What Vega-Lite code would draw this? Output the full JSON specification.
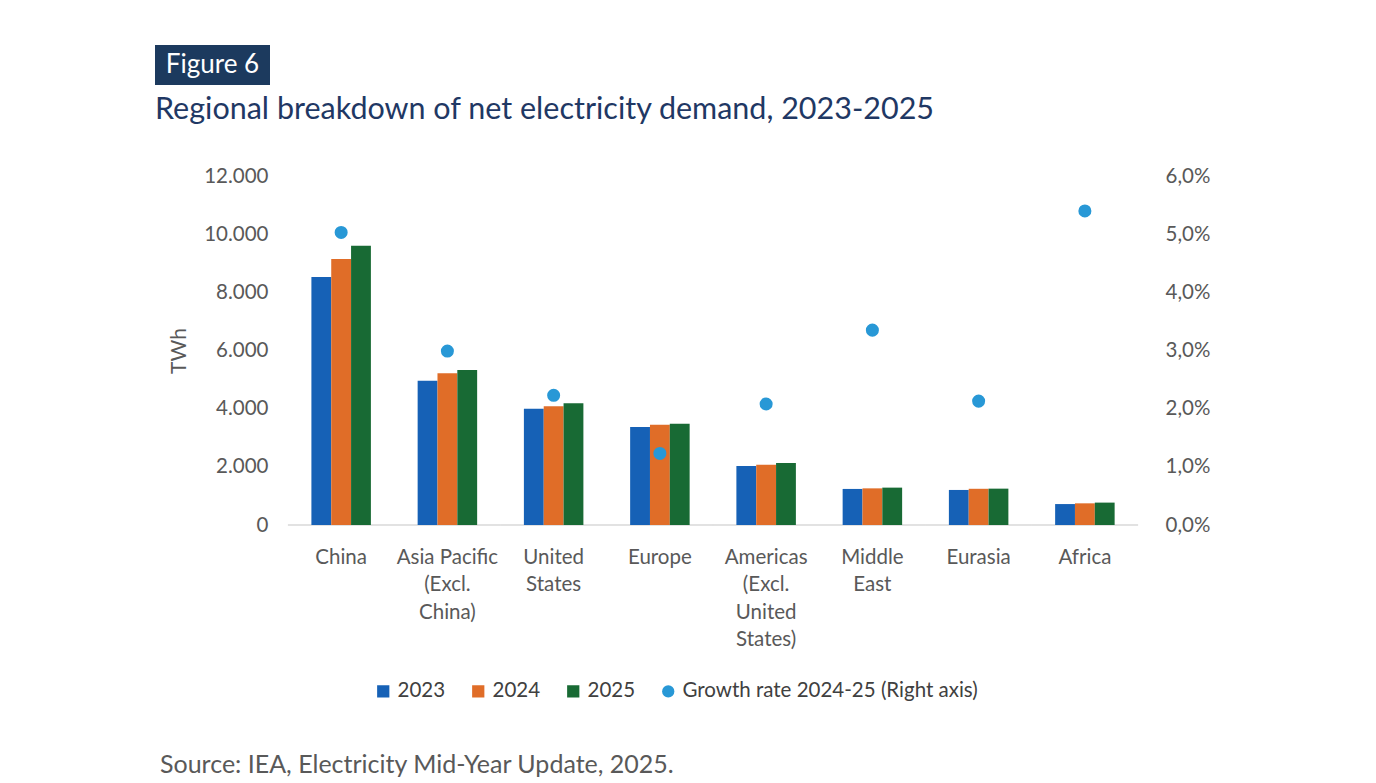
{
  "$schema": "https://vega.github.io/schema/vega-lite/v6.json",
  "background": "white",
  "padding": {"left": 155, "top": 45, "right": 10, "bottom": 5},
  "config": {
    "font": "Lato",
    "locale": {"number": {"decimal": ",", "thousands": ".", "grouping": [3], "currency": ["", " €"]}},
    "view": {"stroke": null},
    "axis": {"grid": false, "ticks": false, "labelFont": "Lato", "labelColor": "#595959", "labelFontSize": 20.5, "titleFont": "Lato", "titleColor": "#595959", "titleFontWeight": "normal", "titleFontSize": 21}
  },
  "datasets": {
    "demand": [
      {"region": "China", "series": "2023", "twh": 8530},
      {"region": "China", "series": "2024", "twh": 9150},
      {"region": "China", "series": "2025", "twh": 9600},
      {"region": "Asia Pacific (Excl. China)", "series": "2023", "twh": 4960},
      {"region": "Asia Pacific (Excl. China)", "series": "2024", "twh": 5215},
      {"region": "Asia Pacific (Excl. China)", "series": "2025", "twh": 5330},
      {"region": "United States", "series": "2023", "twh": 4000},
      {"region": "United States", "series": "2024", "twh": 4080},
      {"region": "United States", "series": "2025", "twh": 4185},
      {"region": "Europe", "series": "2023", "twh": 3370},
      {"region": "Europe", "series": "2024", "twh": 3450},
      {"region": "Europe", "series": "2025", "twh": 3485},
      {"region": "Americas (Excl. United States)", "series": "2023", "twh": 2030},
      {"region": "Americas (Excl. United States)", "series": "2024", "twh": 2075},
      {"region": "Americas (Excl. United States)", "series": "2025", "twh": 2130},
      {"region": "Middle East", "series": "2023", "twh": 1240},
      {"region": "Middle East", "series": "2024", "twh": 1260},
      {"region": "Middle East", "series": "2025", "twh": 1285},
      {"region": "Eurasia", "series": "2023", "twh": 1205},
      {"region": "Eurasia", "series": "2024", "twh": 1245},
      {"region": "Eurasia", "series": "2025", "twh": 1250},
      {"region": "Africa", "series": "2023", "twh": 720},
      {"region": "Africa", "series": "2024", "twh": 745},
      {"region": "Africa", "series": "2025", "twh": 770}
    ],
    "growth": [
      {"region": "China", "series": "Growth rate 2024-25 (Right axis)", "growth": 0.0503},
      {"region": "Asia Pacific (Excl. China)", "series": "Growth rate 2024-25 (Right axis)", "growth": 0.0299},
      {"region": "United States", "series": "Growth rate 2024-25 (Right axis)", "growth": 0.0223},
      {"region": "Europe", "series": "Growth rate 2024-25 (Right axis)", "growth": 0.0123},
      {"region": "Americas (Excl. United States)", "series": "Growth rate 2024-25 (Right axis)", "growth": 0.0208},
      {"region": "Middle East", "series": "Growth rate 2024-25 (Right axis)", "growth": 0.0335},
      {"region": "Eurasia", "series": "Growth rate 2024-25 (Right axis)", "growth": 0.0213},
      {"region": "Africa", "series": "Growth rate 2024-25 (Right axis)", "growth": 0.0540}
    ]
  },
  "title": {
    "text": "Source: IEA, Electricity Mid-Year Update, 2025.",
    "orient": "bottom",
    "anchor": "start",
    "frame": "bounds",
    "font": "Lato",
    "fontSize": 25,
    "fontWeight": "normal",
    "color": "#595959",
    "offset": 51,
    "dx": 5
  },
  "spacing": 9,
  "vconcat": [
    {
      "width": 115,
      "height": 40,
      "view": {"fill": "#1c3a5e", "stroke": null},
      "data": {"values": [{"label": "Figure 6"}]},
      "mark": {"type": "text", "color": "white", "font": "Lato", "fontSize": 26, "baseline": "middle", "align": "center"},
      "encoding": {"text": {"field": "label"}}
    },
    {
      "width": 983,
      "height": 349,
      "title": {
        "text": "Regional breakdown of net electricity demand, 2023-2025",
        "anchor": "start",
        "frame": "group",
        "font": "Lato",
        "fontSize": 30.5,
        "fontWeight": "normal",
        "color": "#1f3864",
        "offset": 41
      },
      "encoding": {
        "x": {
          "field": "region",
          "type": "nominal",
          "sort": ["China", "Asia Pacific (Excl. China)", "United States", "Europe", "Americas (Excl. United States)", "Middle East", "Eurasia", "Africa"],
          "scale": {"paddingInner": 0.44, "paddingOuter": 0.846, "align": 0.87},
          "axis": {
            "title": null,
            "domain": false,
            "labelAngle": 0,
            "labelPadding": 22,
            "labelBaseline": "top",
            "labelLineHeight": 27.5,
            "labelExpr": "datum.value == 'Asia Pacific (Excl. China)' ? ['Asia Pacific', '(Excl.', 'China)'] : datum.value == 'United States' ? ['United', 'States'] : datum.value == 'Americas (Excl. United States)' ? ['Americas', '(Excl.', 'United', 'States)'] : datum.value == 'Middle East' ? ['Middle', 'East'] : datum.value"
          }
        }
      },
      "layer": [
        {
          "data": {"name": "growth"},
          "mark": {"type": "rule", "color": "#d9d9d9", "strokeWidth": 1.5},
          "encoding": {
            "x": {"field": "region", "type": "nominal", "bandPosition": -0.395},
            "x2": {"field": "region", "bandPosition": 1.395},
            "y": {"datum": 0, "type": "quantitative", "scale": {"domain": [0, 12000]}, "axis": null}
          }
        },
        {
          "data": {"name": "demand"},
          "mark": {"type": "bar"},
          "encoding": {
            "xOffset": {"field": "series", "type": "nominal", "scale": {"paddingInner": 0, "paddingOuter": 0}},
            "y": {
              "field": "twh",
              "type": "quantitative",
              "scale": {"domain": [0, 12000]},
              "axis": {"title": "TWh", "domain": false, "offset": -133, "values": [0, 2000, 4000, 6000, 8000, 10000, 12000], "format": ",d", "labelPadding": 20, "titlePadding": 14}
            },
            "color": {
              "field": "series",
              "type": "nominal",
              "scale": {
                "domain": ["2023", "2024", "2025", "Growth rate 2024-25 (Right axis)"],
                "range": ["#1661b6", "#e06d28", "#186a34", "#2898d6"]
              },
              "legend": {
                "title": null,
                "orient": "none",
                "direction": "horizontal",
                "legendX": 218,
                "legendY": 636,
                "labelFont": "Lato",
                "labelFontSize": 20.5,
                "labelColor": "#404040",
                "labelLimit": 400,
                "symbolSize": 150,
                "symbolStrokeWidth": 0,
                "labelOffset": 4,
                "columnPadding": 22,
                "encode": {"symbols": {"update": {"shape": {"signal": "datum.value === 'Growth rate 2024-25 (Right axis)' ? 'circle' : 'square'"}}}}
              }
            }
          }
        },
        {
          "data": {"name": "growth"},
          "mark": {"type": "circle", "size": 170, "opacity": 1},
          "encoding": {
            "y": {
              "field": "growth",
              "type": "quantitative",
              "scale": {"domain": [0, 0.06]},
              "axis": {"orient": "right", "title": null, "domain": false, "values": [0, 0.01, 0.02, 0.03, 0.04, 0.05, 0.06], "format": ".1%", "labelPadding": 27}
            },
            "color": {"field": "series", "type": "nominal"}
          }
        }
      ],
      "resolve": {"scale": {"y": "independent"}}
    }
  ]
}
